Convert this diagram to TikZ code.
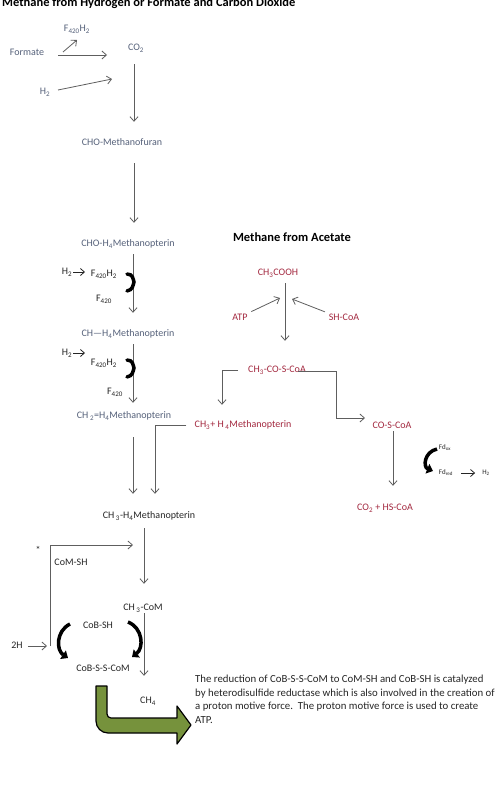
\documentclass[tikz,border=0pt]{standalone}
\usepackage{fontspec}
\setmainfont{Carlito}
\usetikzlibrary{arrows.meta,calc}
\definecolor{slate}{HTML}{55617A}
\definecolor{ink}{HTML}{262626}
\definecolor{wine}{HTML}{A3283F}
\definecolor{linec}{HTML}{5E5E5E}
\definecolor{olivegr}{HTML}{76923C}
\newcommand{\sbs}[1]{\textsubscript{#1}}
\begin{document}
\begin{tikzpicture}[x=1pt,y=-1pt,
 lbl/.style={inner sep=0pt, text height=7pt, text depth=2pt, font=\fontsize{10}{12}\selectfont},
 blu/.style={lbl,text=slate}, blk/.style={lbl,text=ink}, rtx/.style={lbl,text=wine},
 tiny/.style={inner sep=0pt, text=ink, font=\fontsize{7}{8}\selectfont},
 heading/.style={inner sep=0pt, text=black, font=\bfseries\fontsize{12.5}{14}\selectfont},
 arr/.style={draw=linec, line width=0.8pt, -{Straight Barb[length=4.5pt,width=8pt]}},
 karr/.style={draw=ink, line width=0.8pt, -{Straight Barb[length=4pt,width=7pt]}},
 gap/.style 2 args={shorten <=#1pt, shorten >=#2pt},
 curl/.style={draw=black, line width=3.5pt, line cap=round},
 curlarr/.style={draw=black, line width=3.5pt, -{Triangle[length=6pt,width=10pt]}}]
\useasboundingbox (0,0) rectangle (500,787);
\fill[white] (0,0) rectangle (500,787);

% titles
\node[heading, anchor=base west] (title) at (2,6) {Methane from Hydrogen or Formate and Carbon Dioxide};
\node[heading] (title2) at (292,237) {Methane from Acetate};

% column coordinates
\coordinate (colA) at (134,0);
\coordinate (colB) at (133,0);
\coordinate (colC) at (144,0);
\coordinate (colD) at (155,0);
\coordinate (colR) at (285,0);
\coordinate (colL) at (222,0);
\coordinate (colS) at (393,0);

% left pathway
\node[blu] (formate) at (27,53) {Formate};
\node[blu] (fh) at (77,29) {F\sbs{420}H\sbs{2}};
\node[blu] (co2) at (136,48) {CO\sbs{2}};
\node[blu] (h2a) at (45,92) {H\sbs{2}};
\node[blu] (chof) at (122,143) {CHO-Methanofuran};
\node[blu] (choh) at (128,244) {CHO-H\sbs{4}Methanopterin};
\node[blu] (chh) at (128,334) {CH---H\sbs{4}Methanopterin};
\node[blu] (ch2) at (124,416) {CH\,\sbs{2}=H\sbs{4}Methanopterin};
\node[blk] (ch3h) at (149,516) {CH\,\sbs{3}-H\sbs{4}Methanopterin};
\node[blk] (ch3com) at (143,608) {CH\,\sbs{3}-CoM};
\node[blk] (ch4) at (148,701) {CH\sbs{4}};
\node[blk] (comsh) at (71,563) {CoM-SH};
\node[blk] (cobsh) at (98,626) {CoB-SH};
\node[blk] (cobss) at (103,669) {CoB-S-S-CoM};
\node[blk] (twoh) at (17,646) {2H};
\node[blk] (star) at (38,551) {*};

\node[blk] (h2b) at (67,272) {H\sbs{2}};
\node[blk] (f1) at (104,274) {F\sbs{420}H\sbs{2}};
\node[blk] (f1b) at (104,299) {F\sbs{420}};
\node[blk] (h2c) at (67,353) {H\sbs{2}};
\node[blk] (f2) at (104,363) {F\sbs{420}H\sbs{2}};
\node[blk] (f2b) at (115,392) {F\sbs{420}};

% formate / H2 arrows
\coordinate (fa1) at (58,55);
\coordinate (fa2) at (107,55);
\coordinate (fb1) at (63,52);
\coordinate (fb2) at (77,40);
\coordinate (ha1) at (58,90);
\coordinate (ha2) at (112,79);
\draw[arr] (fa1) -- (fa2);
\draw[arr] (fb1) -- (fb2);
\draw[arr] (ha1) -- (ha2);

% main vertical arrows
\draw[arr, gap={11.5}{16.5}] (co2.south -| colA) -- (chof.north -| colA);
\draw[arr, gap={15.5}{16.5}] (chof.south -| colA) -- (choh.north -| colA);
\draw[arr, gap={5.5}{16.5}] (choh.south -| colB) -- (chh.north -| colB);
\draw[arr, gap={5.5}{8.5}] (chh.south -| colB) -- (ch2.north -| colB);
\draw[arr, gap={16.5}{17.5}] (ch2.south -| colB) -- (ch3h.north -| colB);
\draw[arr, gap={7.5}{19.5}] (ch3h.south -| colC) -- (ch3com.north -| colC);
\draw[arr, gap={0.5}{20.5}] (ch3com.south -| colC) -- (ch4.north -| colC);

% H2 -> F420H2
\coordinate (hh1) at (73,272);
\coordinate (hh2) at (85,272);
\coordinate (hh3) at (73,353);
\coordinate (hh4) at (85,353);
\draw[karr] (hh1) -- (hh2);
\draw[karr] (hh3) -- (hh4);

% curly braces
\draw[curl] (127,274) .. controls (133,274) and (133,279) .. (134,282) .. controls (133,285) and (133,290) .. (127,291);
\draw[curl] (127,360) .. controls (133,360) and (133,365) .. (134,368) .. controls (133,371) and (133,376) .. (127,377);

% CoM-SH loop
\coordinate (ct) at (50,545);
\coordinate (cb) at (50,646);
\coordinate (cj) at (133,545);
\draw[arr] (cb) -- (ct) -- (cj);
\draw[arr, shorten <=5pt, shorten >=3pt] (twoh.east) -- (cb);

% curved arrows around CoB-SH
\draw[curlarr] (70,624) .. controls (56,631) and (56,650) .. (68,658);
\draw[curlarr] (128,622) .. controls (143,628) and (144,648) .. (132,657);

% acetate pathway
\node[rtx] (acet) at (278,273) {CH\sbs{3}COOH};
\node[rtx] (atp) at (240,318) {ATP};
\node[rtx] (shcoa) at (344,318) {SH-CoA};
\node[rtx] (ch3co) at (277,370) {CH\sbs{3}-CO-S-CoA};
\node[rtx] (ch3p) at (243,425) {CH\sbs{3}+ H\,\sbs{4}Methanopterin};
\node[rtx] (cosc) at (392,426) {CO-S-CoA};
\node[rtx] (co2hs) at (385,508) {CO\sbs{2} + HS-CoA};

\draw[arr, gap={5.5}{24.5}] (acet.south -| colR) -- (ch3co.north -| colR);
\coordinate (m1) at (280,298);
\coordinate (m2) at (292,299);
\draw[arr, shorten <=4pt] (atp.north east) -- (m1);
\draw[arr, shorten <=4pt] (shcoa.north west) -- (m2);

\draw[arr, gap={6}{15.5}] (ch3co.west -| 244,0) -| (ch3p.north -| colL);
\coordinate (r1) at (336,371);
\coordinate (r2) at (336,418);
\coordinate (r3) at (365,418);
\draw[arr] (298,371) -- (r1) -- (r2) -- (r3);
\draw[arr, shorten <=8pt, shorten >=17.5pt] (ch3p.west) -| (ch3h.north -| colD);
\draw[arr, gap={0.5}{17.5}] (cosc.south -| colS) -- (co2hs.north -| colS);

% ferredoxin
\node[tiny] (fdox) at (445,448) {Fd\sbs{ox}};
\node[tiny] (fdred) at (446,473) {Fd\sbs{red}};
\node[tiny] (h2d) at (486,473) {H\sbs{2}};
\draw[curlarr] (437,449) .. controls (424,452) and (423,467) .. (433,471);
\draw[karr, shorten <=8pt, shorten >=7pt] (fdred.east) -- (h2d.west);

% green arrow
\draw[fill=olivegr, draw=black, line width=1.2pt, line join=round]
  (96,686) -- (107,686) [rounded corners=4pt] -- (107,718) [sharp corners] -- (177,718) -- (177,706)
  -- (191,725) -- (177,744) -- (177,733) [rounded corners=12pt] -- (96,733) [sharp corners] -- cycle;

% explanation
\node[anchor=north west, inner sep=0pt, text=ink, align=left, font=\fontsize{10.8}{13.5}\selectfont] (para) at (195,675)
 {The reduction of CoB-S-S-CoM to CoM-SH and CoB-SH is catalyzed\\
  by heterodisulfide reductase which is also involved in the creation of\\
  a proton motive force.\ \ The proton motive force is used to create\\
  ATP.};
\end{tikzpicture}
\end{document}
